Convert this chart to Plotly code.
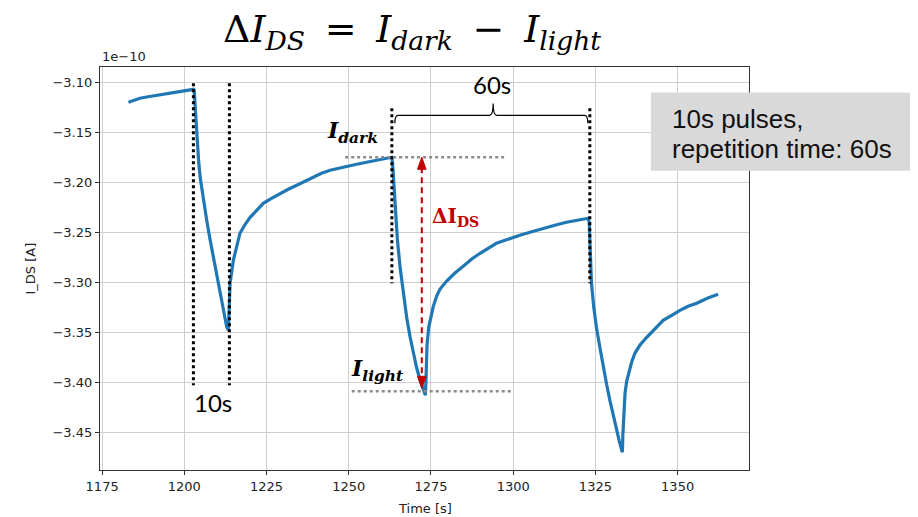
import plotly.graph_objects as go

# ---- data (current in units of 1e-10 A) ----
time_s = [
    1183.0, 1184.5, 1186.5, 1189.0, 1191.6, 1194.0, 1196.7, 1199.5, 1202.8,
    1203.0, 1203.4, 1203.8, 1204.3, 1204.8, 1205.8, 1206.8, 1207.8, 1208.8, 1209.9, 1210.9, 1211.9, 1212.9, 1213.4,
    1213.6, 1213.9, 1214.9, 1215.9, 1216.9, 1218.5, 1220.0, 1222.0, 1224.0, 1226.5, 1229.1, 1231.6, 1234.2, 1236.7,
    1239.2, 1241.7, 1244.3, 1246.8, 1249.4, 1252.4, 1255.4, 1258.4, 1261.0, 1263.0,
    1263.3, 1264.1, 1264.8, 1265.6, 1266.6, 1267.6, 1268.6, 1269.6, 1270.6, 1271.7, 1272.4, 1273.0, 1273.3,
    1273.5, 1273.8, 1274.3, 1275.0, 1275.7, 1276.7, 1277.7, 1279.7, 1282.2, 1284.8, 1287.3, 1289.9, 1292.4,
    1294.9, 1297.5, 1300.0, 1302.5, 1305.1, 1307.6, 1310.2, 1313.2, 1316.2, 1319.5, 1322.8,
    1323.1, 1323.8, 1324.5, 1325.3, 1326.4, 1327.4, 1328.4, 1329.4, 1330.4, 1331.4, 1332.2, 1333.0, 1333.2,
    1333.35, 1333.6, 1334.0, 1334.5, 1335.2, 1336.0, 1337.0, 1338.5, 1340.6, 1343.1, 1345.6, 1348.2, 1350.7,
    1353.2, 1355.8, 1359.0, 1362.3,
]
i_ds = [
    -3.120, -3.118, -3.116, -3.1145, -3.113, -3.1115, -3.110, -3.109, -3.107,
    -3.108, -3.130, -3.155, -3.177, -3.195, -3.218, -3.238, -3.257, -3.275, -3.293, -3.311, -3.328, -3.345, -3.348,
    -3.330, -3.301, -3.278, -3.263, -3.251, -3.242, -3.235, -3.228, -3.221, -3.216, -3.211, -3.207, -3.203, -3.199,
    -3.195, -3.191, -3.188, -3.186, -3.184, -3.182, -3.180, -3.178, -3.176, -3.175,
    -3.180, -3.228, -3.258, -3.285, -3.311, -3.335, -3.354, -3.371, -3.385, -3.398, -3.405, -3.411, -3.413,
    -3.395, -3.362, -3.345, -3.333, -3.324, -3.314, -3.307, -3.299, -3.291, -3.284, -3.277, -3.271, -3.266,
    -3.261, -3.258, -3.255, -3.2525, -3.250, -3.2475, -3.245, -3.2425, -3.240, -3.238, -3.236,
    -3.240, -3.301, -3.325, -3.345, -3.366, -3.385, -3.402, -3.418, -3.433, -3.448, -3.458, -3.468, -3.470,
    -3.452, -3.428, -3.411, -3.399, -3.389, -3.380, -3.371, -3.363, -3.355, -3.346, -3.338, -3.333, -3.328,
    -3.324, -3.321, -3.316, -3.312,
]

x_ticks = [1175, 1200, 1225, 1250, 1275, 1300, 1325, 1350]
y_ticks = [-3.45, -3.40, -3.35, -3.30, -3.25, -3.20, -3.15, -3.10]

# pulse edges and levels
pulse_on = [1202.75, 1263.1, 1323.3]
pulse_off = 1213.7
i_dark = -3.175
i_light = -3.409
arrow_t = 1272.2

BLUE = "#1f77b4"
RED = "#c00000"
AX = "#333333"

fig = go.Figure()
fig.add_trace(go.Scatter(x=time_s, y=i_ds, mode="lines",
                         line=dict(color=BLUE, width=3.2), showlegend=False,
                         hoverinfo="skip"))

shapes = []
for t in [pulse_on[0], pulse_off]:
    shapes.append(dict(type="line", xref="x", yref="y", x0=t, x1=t, y0=-3.101, y1=-3.403,
                       line=dict(color="black", width=3, dash="dot")))
for t in [pulse_on[1], pulse_on[2]]:
    shapes.append(dict(type="line", xref="x", yref="y", x0=t, x1=t, y0=-3.126, y1=-3.301,
                       line=dict(color="black", width=3, dash="dot")))
shapes.append(dict(type="line", xref="x", yref="y", x0=1248.9, x1=1297.5, y0=i_dark, y1=i_dark,
                   line=dict(color="#8c8c8c", width=2.5, dash="dot")))
shapes.append(dict(type="line", xref="x", yref="y", x0=1250.9, x1=1299.8, y0=i_light, y1=i_light,
                   line=dict(color="#8c8c8c", width=2.5, dash="dot")))
shapes.append(dict(type="line", xref="x", yref="y", x0=arrow_t, x1=arrow_t, y0=i_dark - 0.010, y1=i_light + 0.012,
                   line=dict(color=RED, width=2, dash="6px,4px")))
shapes.append(dict(type="path", xref="x", yref="y",
                   path=f"M {arrow_t},{i_dark} L {arrow_t-1.3},{i_dark-0.012} L {arrow_t+1.3},{i_dark-0.012} Z",
                   fillcolor=RED, line=dict(color=RED, width=1)))
shapes.append(dict(type="path", xref="x", yref="y",
                   path=f"M {arrow_t},{i_light+0.003} L {arrow_t-1.3},{i_light+0.015} L {arrow_t+1.3},{i_light+0.015} Z",
                   fillcolor=RED, line=dict(color=RED, width=1)))
bl, br, bm = 1264.0, 1322.7, 1293.9
yb, ye, yp = -3.133, -3.141, -3.1213
shapes.append(dict(type="path", xref="x", yref="y",
                   path=(f"M {bl},{ye} Q {bl},{yb} {bl+1.0},{yb} L {bm-1.1},{yb} "
                         f"Q {bm},{yb} {bm},{yp} Q {bm},{yb} {bm+1.1},{yb} "
                         f"L {br-1.0},{yb} Q {br},{yb} {br},{ye}"),
                   line=dict(color="black", width=1.2)))
shapes.append(dict(type="rect", xref="paper", yref="paper", x0=0.849, x1=1.30, y0=0.7427, y1=0.937,
                   fillcolor="#d9d9d9", line=dict(width=0), layer="above"))

NB = "\u2009"
annotations = [
    dict(text=f"Δ<i>I</i><sub><i>DS</i></sub>{NB} = {NB}<i>I</i><sub><i>dark</i></sub>{NB} − {NB}<i>I</i><sub><i>light</i></sub>",
         xref="paper", yref="paper", x=0.4807, y=(470 - 31) / 403, xanchor="center", yanchor="middle",
         showarrow=False, font=dict(family="DejaVu Serif", size=38, color="black")),
    dict(text="1e−10", xref="paper", yref="paper", x=0.0, y=(470 - 57) / 403, xanchor="left", yanchor="middle",
         showarrow=False, font=dict(family="DejaVu Sans", size=13, color="#222")),
    dict(text="I_DS [A]", xref="paper", yref="paper", x=(30 - 100) / 649, y=0.5, textangle=-90,
         xanchor="center", yanchor="middle", showarrow=False,
         font=dict(family="DejaVu Sans", size=13, color="#222")),
    dict(text="Time [s]", xref="paper", yref="paper", x=0.5, y=(470 - 508) / 403,
         xanchor="center", yanchor="middle", showarrow=False,
         font=dict(family="DejaVu Sans", size=13, color="#222")),
    dict(text="10s", xref="x", yref="y", x=1208.8, y=-3.420, xanchor="center", yanchor="middle",
         showarrow=False, font=dict(family="Lato", size=24, color="black")),
    dict(text="60s", xref="x", yref="y", x=1293.4, y=-3.102, xanchor="center", yanchor="middle",
         showarrow=False, font=dict(family="Lato", size=24, color="black")),
    dict(text="<b><i>I<sub>dark</sub></i></b>", xref="x", yref="y", x=1251.0, y=-3.150,
         xanchor="center", yanchor="middle", showarrow=False,
         font=dict(family="DejaVu Serif", size=22, color="black")),
    dict(text="<b><i>I<sub>light</sub></i></b>", xref="x", yref="y", x=1258.5, y=-3.388,
         xanchor="center", yanchor="middle", showarrow=False,
         font=dict(family="DejaVu Serif", size=22, color="black")),
    dict(text="<b>ΔI<sub>DS</sub></b>", xref="x", yref="y", x=1282.4, y=-3.235,
         xanchor="center", yanchor="middle", showarrow=False,
         font=dict(family="DejaVu Serif", size=20, color=RED)),
    dict(text="10s pulses,", xref="paper", yref="paper", x=(670 - 100) / 649, y=(470 - 119) / 403,
         xanchor="left", yanchor="middle", showarrow=False,
         font=dict(family="Liberation Sans", size=26, color="#111")),
    dict(text="repetition time: 60s", xref="paper", yref="paper", x=(670 - 100) / 649, y=(470 - 149) / 403,
         xanchor="left", yanchor="middle", showarrow=False,
         font=dict(family="Liberation Sans", size=26, color="#111")),
]

# the page body adds an 8px offset, so margins are shifted to keep the plot area in place
fig.update_layout(
    width=918, height=517,
    margin=dict(l=92, r=177, t=59, b=55),
    paper_bgcolor="white", plot_bgcolor="white",
    shapes=shapes, annotations=annotations,
    showlegend=False,
)
fig.update_xaxes(range=[1174.35, 1371.7], tickmode="array", tickvals=x_ticks,
                 ticktext=[str(v) for v in x_ticks],
                 showgrid=True, gridcolor="#cfcfcf", gridwidth=1, zeroline=False,
                 showline=True, linecolor=AX, linewidth=1.2, mirror=True,
                 ticks="outside", ticklen=4, tickcolor=AX,
                 tickfont=dict(family="DejaVu Sans", size=13, color="#222"))
fig.update_yaxes(range=[-3.4877, -3.0847], tickmode="array", tickvals=y_ticks,
                 ticktext=[f"{v:.2f}".replace("-", "−") for v in y_ticks],
                 showgrid=True, gridcolor="#cfcfcf", gridwidth=1, zeroline=False,
                 showline=True, linecolor=AX, linewidth=1.2, mirror=True,
                 ticks="outside", ticklen=4, tickcolor=AX,
                 tickfont=dict(family="DejaVu Sans", size=13, color="#222"))

fig.write_html("out.html")
